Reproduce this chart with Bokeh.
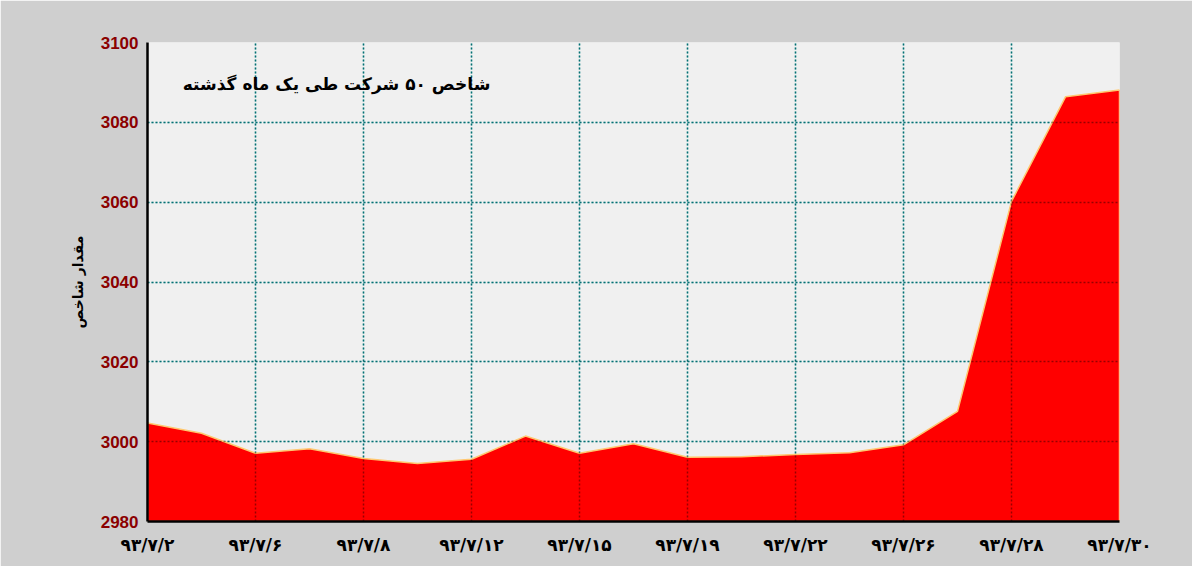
from bokeh.plotting import figure
from bokeh.models import FixedTicker, Range1d, Grid, Label
from bokeh.embed import file_html
from bokeh.resources import INLINE

# ---- data ----
day_index = list(range(19))
index_values = [3004.7, 3002.1, 2997.1, 2998.2, 2995.8, 2994.5, 2995.6, 3001.4,
                2997.1, 2999.5, 2996.1, 2996.2, 2996.8, 2997.2, 2999.2, 3007.6,
                3060.2, 3086.4, 3088.1]
tick_positions = [0, 2, 4, 6, 8, 10, 12, 14, 16, 18]
tick_labels = ["۹۳/۷/۲", "۹۳/۷/۶", "۹۳/۷/۸", "۹۳/۷/۱۲", "۹۳/۷/۱۵",
               "۹۳/۷/۱۹", "۹۳/۷/۲۲", "۹۳/۷/۲۶", "۹۳/۷/۲۸", "۹۳/۷/۳۰"]
y_ticks = [2980, 3000, 3020, 3040, 3060, 3080, 3100]
y_min, y_max = 2980, 3100
title_text = "شاخص ۵۰ شرکت طی یک ماه گذشته"
y_label = "مقدار شاخص"

W, H = 1192, 566
p = figure(width=W, height=H, output_backend="svg", toolbar_location=None,
           x_range=Range1d(day_index[0], day_index[-1]), y_range=Range1d(y_min, y_max),
           min_border_left=147, min_border_right=W - 1119, min_border_top=42,
           min_border_bottom=H - 521)
p.border_fill_color = "#CFCFCF"
p.background_fill_color = "#F0F0F0"
p.outline_line_color = None

# filled area
xs = day_index + [day_index[-1], day_index[0]]
ys = index_values + [y_min, y_min]
p.patch(xs, ys, fill_color="#FF0000", line_color="#FFC870", line_width=1.5)

# axes
p.xaxis.ticker = FixedTicker(ticks=tick_positions)
p.xaxis.major_label_overrides = {t: l for t, l in zip(tick_positions, tick_labels)}
p.yaxis.ticker = FixedTicker(ticks=y_ticks)
for ax in (p.xaxis, p.yaxis):
    ax.major_tick_line_color = None
    ax.minor_tick_line_color = None
    ax.axis_line_color = "black"
    ax.axis_line_width = 2.5
    ax.major_label_text_font_style = "bold"
p.xaxis.major_label_text_font = "DejaVu Sans"
p.xaxis.major_label_text_font_size = "17px"
p.xaxis.major_label_text_color = "black"
p.xaxis.major_label_standoff = 7
p.yaxis.major_label_text_font = "Liberation Sans"
p.yaxis.major_label_text_font_size = "17px"
p.yaxis.major_label_text_color = "#8B0000"
p.yaxis.major_label_standoff = 3
p.yaxis.axis_label = y_label
p.yaxis.axis_label_text_font = "DejaVu Sans"
p.yaxis.axis_label_text_font_style = "bold"
p.yaxis.axis_label_text_font_size = "14px"
p.yaxis.axis_label_text_color = "black"
p.yaxis.axis_label_standoff = 12

# grids (teal on background)
p.xgrid.ticker = FixedTicker(ticks=tick_positions)
p.ygrid.ticker = FixedTicker(ticks=y_ticks)
for g in (p.xgrid, p.ygrid):
    g.grid_line_color = "#10B8BC"
    g.grid_line_dash = "2 2"
    g.grid_line_width = 1.5
# darker overlay grids (appear dark on the red fill)
for dim, tk in ((0, tick_positions), (1, y_ticks)):
    p.add_layout(Grid(dimension=dim, ticker=FixedTicker(ticks=tk), level="overlay",
                      grid_line_color="black", grid_line_alpha=0.4, grid_line_dash="2 2",
                      grid_line_width=1.5))

# title inside chart
p.add_layout(Label(x=6.35, y=3089.5, text=title_text, text_align="right",
                   text_baseline="middle", text_font="DejaVu Sans",
                   text_font_style="bold", text_font_size="17px", text_color="black"))

open("out.html", "w").write(file_html(p, INLINE))
